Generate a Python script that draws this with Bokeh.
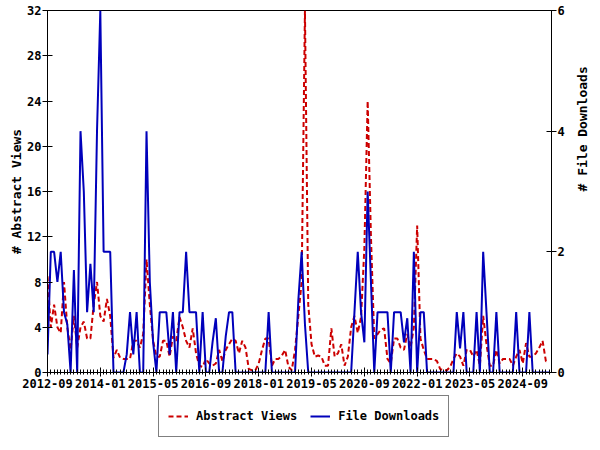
import math
from bokeh.plotting import figure
from bokeh.layouts import column
from bokeh.models import Range1d, LinearAxis, FixedTicker, Legend, LegendItem, ColumnDataSource
from bokeh.embed import file_html
from bokeh.resources import INLINE

# ---- data (monthly, starting 2012-09) ----
tick_labels = ["2012-09", "2014-01", "2015-05", "2016-09", "2018-01",
               "2019-05", "2020-09", "2022-01", "2023-05", "2024-09"]
months_per_label = 16

abstract_views = [
    8.5, 4, 6, 4, 3.5, 8, 4, 2, 5, 2.2,
    4, 4.5, 3, 3, 6, 8, 5, 4.5, 6.5, 5,
    1.3, 2, 1.3, 1.2, 1.2, 1.2, 2.8, 2.8, 2.2, 3.4,
    10, 6, 2.8, 1.4, 1.4, 2.8, 2.8, 1.4, 3.2, 2.8,
    4.9, 4, 2.8, 2.2, 3.9, 1.7, 0.6, 0.5, 1.2, 0.8,
    0.6, 0.8, 2, 1, 2, 2.5, 3, 2.8, 1.7, 2.8,
    2.2, 0.3, 0.2, 0.2, 0.8, 2, 3, 3, 0.6, 1.2,
    1.2, 1.5, 2, 0.5, 0.2, 2, 5, 8, 32, 6,
    2.5, 1.4, 1.5, 1.4, 0.6, 0.6, 3.9, 1.4, 1.7, 2.5,
    0.6, 1.4, 4, 5, 3.5, 4.9, 11, 24, 12, 3,
    3.4, 3.8, 3.9, 1.2, 0.8, 3, 3, 2.2, 2, 3.4,
    2.2, 4, 13, 3, 2, 1.2, 1.2, 1.2, 1, 0.3,
    0.2, 0.2, 0.5, 1.2, 1.7, 1.4, 0.6, 2, 2, 1.4,
    2, 0.6, 5, 2.5, 0.6, 0.6, 2, 0.8, 1.2, 1.2,
    1.2, 0.6, 1.4, 2, 0.8, 2.6, 1.4, 1.4, 1.7, 2.2,
    2.8, 1, 1,
]

file_downloads = [
    0.3, 2, 2, 1.5, 2, 1, 0.8, 0, 1.7, 0,
    4, 3, 1, 1.8, 1, 4, 6, 2, 2, 2,
    0, 0, 0, 0, 0.3, 1, 0.3, 1, 0, 0,
    4, 1.5, 0.5, 0, 1, 1, 1, 0.3, 1, 0,
    1, 1, 2, 1, 1, 1, 0, 1, 0, 0,
    0.5, 0.9, 0, 0, 0.6, 1, 1, 0, 0, 0,
    0, 0, 0, 0, 0, 0, 0, 1, 0, 0,
    0, 0, 0, 0, 0, 0, 1.2, 2, 0.8, 0,
    0, 0, 0, 0, 0, 0, 0, 0, 0, 0,
    0, 0, 0, 1, 2, 1, 0.5, 3, 1.5, 0,
    1, 1, 1, 1, 0, 1, 1, 1, 0.5, 0.9,
    0, 2, 0, 1, 1, 0, 0, 0, 0, 0,
    0, 0, 0, 0, 1, 0.4, 1, 0, 0, 0,
    1, 0, 2, 1, 0, 0, 1, 0, 0, 0,
    0, 0, 1, 0, 0, 0, 1, 0, 0, 0,
    0, 0, 0,
]

series_labels = ["Abstract Views", "File Downloads"]
left_axis_title = "# Abstract Views"
right_axis_title = "# File Downloads"
left_ticks = [0, 4, 8, 12, 16, 20, 24, 28, 32]
right_ticks = [0, 2, 4, 6]

months = list(range(len(abstract_views)))
src = ColumnDataSource(dict(m=months, views=abstract_views, dls=file_downloads))

FONT = "DejaVu Sans Mono"
RED = "#cc0000"
BLUE = "#0000bb"

p = figure(width=600, height=392,
           x_range=Range1d(0, 152.7), y_range=Range1d(0, 32),
           output_backend="svg", toolbar_location=None,
           min_border_left=47, min_border_right=43, min_border_top=10,
           min_border_bottom=20)
p.extra_y_ranges = {"dl": Range1d(0, 6)}

p.xgrid.visible = False
p.ygrid.visible = False
p.outline_line_color = "black"
p.outline_line_width = 1
p.background_fill_color = "white"
p.border_fill_color = "white"

r1 = p.line("m", "views", source=src, line_color=RED, line_width=2, line_dash="5 3")
r2 = p.line("m", "dls", source=src, line_color=BLUE, line_width=2, y_range_name="dl")

# x axis
xa = p.xaxis[0]
major = [i * months_per_label for i in range(len(tick_labels))]
xa.ticker = FixedTicker(ticks=major, minor_ticks=months)
xa.major_label_overrides = {t: lbl for t, lbl in zip(major, tick_labels)}

# left axis
ya = p.yaxis[0]
ya.ticker = FixedTicker(ticks=left_ticks)
ya.axis_label = left_axis_title

ra = LinearAxis(y_range_name="dl", ticker=FixedTicker(ticks=right_ticks),
                axis_label=right_axis_title)
p.add_layout(ra, "right")
ra.axis_label_orientation = math.pi / 2

for ax in [xa, ya, ra]:
    ax.axis_line_color = "black"
    ax.major_tick_line_color = "black"
    ax.minor_tick_line_color = "black"
    ax.major_tick_out = 5
    ax.major_tick_in = 5
    ax.major_label_text_font = FONT
    ax.major_label_text_font_style = "bold"
    ax.major_label_text_font_size = "12px"
    ax.major_label_text_color = "black"
    ax.axis_label_text_font = FONT
    ax.axis_label_text_font_style = "bold"
    ax.axis_label_text_font_size = "13px"
    ax.axis_label_text_color = "black"
    ax.axis_label_standoff = 3
    ax.major_label_standoff = 1
xa.minor_tick_out = 2
xa.minor_tick_in = 3
xa.major_tick_out = 4
xa.major_tick_in = 5
xa.major_label_standoff = 2
ya.minor_tick_line_color = None
ra.minor_tick_line_color = None
ra.axis_label_standoff = 15
ya.axis_label_standoff = 0

# ---- legend strip below the chart ----
lf = figure(width=600, height=58, output_backend="svg", toolbar_location=None,
            x_range=Range1d(0, 1), y_range=Range1d(-20, -10),
            x_axis_location=None, y_axis_location=None,
            min_border=0, outline_line_color=None)
lf.xgrid.visible = False
lf.ygrid.visible = False
l1 = lf.line("m", "views", source=src, line_color=RED, line_width=2, line_dash="5 3")
l2 = lf.line("m", "dls", source=src, line_color=BLUE, line_width=2)

legend = Legend(items=[LegendItem(label=series_labels[0], renderers=[l1]),
                       LegendItem(label=series_labels[1], renderers=[l2])],
                orientation="horizontal", location=(111, 13),
                label_text_font=FONT, label_text_font_style="bold",
                label_text_font_size="12px", label_text_color="black",
                border_line_color="black", border_line_width=1,
                padding=9, spacing=13, glyph_width=20, glyph_height=22,
                label_height=22, label_standoff=8, margin=0)
lf.add_layout(legend, "center")

layout = column(p, lf, spacing=0)
open("out.html", "w").write(file_html(layout, INLINE))
